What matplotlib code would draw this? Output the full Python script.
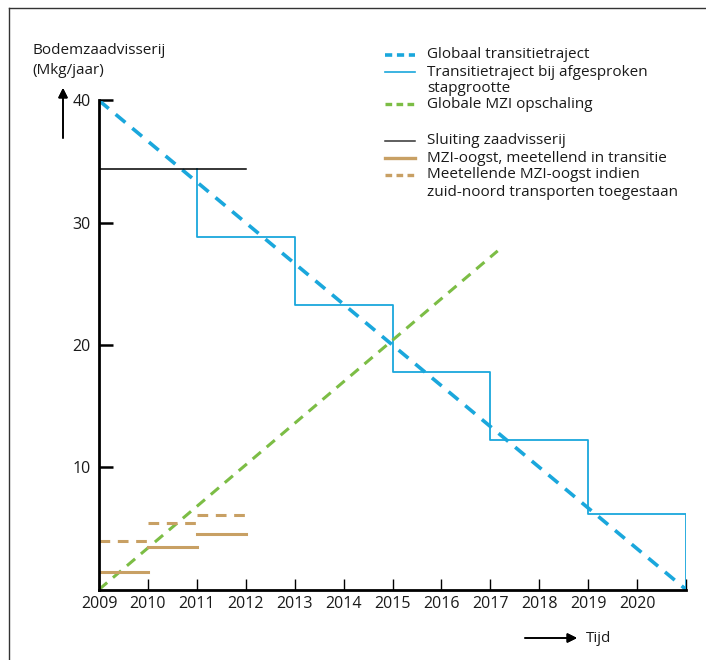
import matplotlib
matplotlib.use("Agg")
import matplotlib.pyplot as plt
from matplotlib.lines import Line2D

plt.rcParams['font.family'] = ['Open Sans', 'DejaVu Sans']

# data
tick_years = list(range(2009, 2021))
y_ticks = [10, 20, 30, 40]

global_x = [2009, 2021]
global_y = [40, 0]

# stepped trajectory (year, level)
step_x = [2011, 2011, 2013, 2013, 2015, 2015, 2017, 2017, 2019, 2019, 2021, 2021]
step_y = [34.4, 28.8, 28.8, 23.3, 23.3, 17.8, 17.8, 12.2, 12.2, 6.2, 6.2, 0]

mzi_x = [2009, 2017.15]
mzi_y = [0, 27.7]

closure_x = [2009, 2012]
closure_y = [34.4, 34.4]

harvest_start = [2009, 2010, 2011]
harvest_end = [2010, 2011, 2012]
harvest = [1.45, 3.45, 4.55]
harvest_transport = [3.95, 5.4, 6.1]

blue = '#1aa7dc'
green = '#7cbd45'
tan = '#c8a064'
dash = (0, (3.5, 2.5))

fig = plt.figure(figsize=(7.06, 6.6), dpi=100)
ax = fig.add_axes([99 / 706, 1 - 589.5 / 660, 587 / 706, 489 / 660])

ax.plot(global_x, global_y, color=blue, lw=2.6, linestyle=dash)
ax.plot(step_x, step_y, color=blue, lw=1.3)
ax.plot(mzi_x, mzi_y, color=green, lw=2.2, linestyle=dash)
ax.plot(closure_x, closure_y, color='black', lw=1.1)
for x0, x1, v in zip(harvest_start, harvest_end, harvest):
    ax.plot([x0, x1], [v, v], color=tan, lw=2.2)
for x0, x1, v in zip(harvest_start, harvest_end, harvest_transport):
    ax.plot([x0, x1], [v, v], color=tan, lw=2.2, linestyle=dash)

ax.set_xlim(2009, 2021)
ax.set_ylim(0, 40)
ax.set_xticks(tick_years + [2021])
ax.set_xticklabels([str(y) for y in tick_years] + [''])
ax.set_yticks(y_ticks)
ax.spines['top'].set_visible(False)
ax.spines['right'].set_visible(False)
ax.spines['left'].set_linewidth(2)
ax.spines['bottom'].set_linewidth(2)
ax.tick_params(axis='x', direction='in', length=8, width=1, pad=5, labelsize=11.5)
ax.tick_params(axis='y', direction='in', length=10, width=1.8, pad=6, labelsize=11.5)
for lbl in ax.get_xticklabels() + ax.get_yticklabels():
    lbl.set_color('#1a1a1a')

# axis titles with arrows
fig.text(32 / 706, 1 - 50 / 660, 'Bodemzaadvisserij', fontsize=11,
         ha='left', va='center', color='#1a1a1a')
fig.text(32 / 706, 1 - 70 / 660, '(Mkg/jaar)', fontsize=11,
         ha='left', va='center', color='#1a1a1a')
fig.add_artist(plt.annotate('', xy=(63 / 706, 1 - 88 / 660), xytext=(63 / 706, 1 - 138 / 660),
                            xycoords='figure fraction',
                            arrowprops=dict(arrowstyle='-|>', color='black', lw=1.2,
                                            mutation_scale=14, shrinkA=0, shrinkB=0)))
fig.text(586 / 706, 1 - 638 / 660, 'Tijd', fontsize=11, ha='left', va='center', color='#1a1a1a')
fig.add_artist(plt.annotate('', xy=(577 / 706, 1 - 638 / 660), xytext=(525 / 706, 1 - 638 / 660),
                            xycoords='figure fraction',
                            arrowprops=dict(arrowstyle='-|>', color='black', lw=1.2,
                                            mutation_scale=14, shrinkA=0, shrinkB=0)))

# legend, drawn entry by entry so that the sample sits on the first text line
legend_items = [
    ('Globaal transitietraject', blue, 2.6, (0, (2, 1.3)), 55),
    ('Transitietraject bij afgesproken\nstapgrootte', blue, 1.2, '-', 72),
    ('Globale MZI opschaling', green, 2.4, (0, (2, 1.3)), 104),
    ('Sluiting zaadvisserij', '#333333', 1.1, '-', 141),
    ('MZI-oogst, meetellend in transitie', tan, 2.4, '-', 158),
    ('Meetellende MZI-oogst indien\nzuid-noord transporten toegestaan', tan, 2.4, (0, (2, 1.3)), 175),
]
for text, color, lw, ls, ypx in legend_items:
    yf = 1 - ypx / 660
    fig.add_artist(Line2D([385 / 706, 415 / 706], [yf, yf], color=color, lw=lw, linestyle=ls,
                          transform=fig.transFigure))
    for i, line in enumerate(text.split('\n')):
        fig.text(427 / 706, 1 - (ypx + i * 17) / 660, line, fontsize=11,
                 ha='left', va='center', color='#1a1a1a')

# partial frame (top and left border)
fig.add_artist(Line2D([9 / 706, 9 / 706], [0, 1 - 8 / 660], color='#333333', lw=1, transform=fig.transFigure))
fig.add_artist(Line2D([9 / 706, 705 / 706], [1 - 8 / 660, 1 - 8 / 660], color='#333333', lw=1, transform=fig.transFigure))

fig.savefig('out.png', dpi=100)
